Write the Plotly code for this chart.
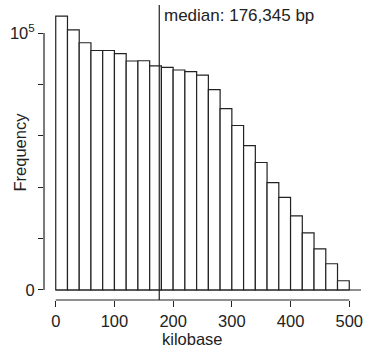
import plotly.graph_objects as go

# histogram bins (kilobase), left edges, width 20 kb
bin_left = [0, 20, 40, 60, 80, 100, 120, 140, 160, 180, 200, 220, 240,
            260, 280, 300, 320, 340, 360, 380, 400, 420, 440, 460, 480]
bin_width = 20
# log10(frequency)
log_freq = [5.33, 5.06, 4.81, 4.66, 4.66, 4.60, 4.455, 4.46, 4.36, 4.33,
            4.28, 4.25, 4.18, 3.90, 3.53, 3.20, 2.81, 2.48, 2.09, 1.80,
            1.44, 1.11, 0.80, 0.51, 0.18]
median_kb = 176.345
median_label = "median: 176,345 bp"
x_ticks = [0, 100, 200, 300, 400, 500]
y_major = [0, 5]
y_major_text = ["0", "10<sup>5</sup>"]
y_minor = [1, 2, 3, 4]

FONT = "Liberation Sans, Arial, sans-serif"
INK = "#222222"
FS = 16.5
W, H = 372, 356
ML, MR, MT, MB = 44, 11, 5, 56
PW, PH = W - ML - MR, H - MT - MB

centers = [b + bin_width / 2 for b in bin_left]

fig = go.Figure()
fig.add_trace(go.Bar(
    x=centers, y=log_freq, width=bin_width, base=0,
    marker=dict(color="white", line=dict(color=INK, width=1.2)),
    hoverinfo="skip",
))

# baseline
fig.add_shape(type="line", x0=0, x1=520, y0=0, y1=0, xref="x", yref="y",
              line=dict(color=INK, width=1.2))
# x axis line (0..500) at plot bottom
fig.add_shape(type="line", x0=0, x1=500, y0=0, y1=0, xref="x", yref="paper",
              line=dict(color=INK, width=1.2))
# y axis line (0..5) at plot left
fig.add_shape(type="line", x0=0, x1=0, y0=0, y1=5, xref="paper", yref="y",
              line=dict(color=INK, width=1.2))
# median line
fig.add_shape(type="line", x0=median_kb, x1=median_kb, y0=0, y1=1,
              xref="x", yref="paper", line=dict(color=INK, width=1.2))
fig.add_annotation(x=median_kb, y=(PH - (15 - MT)) / PH, xref="x", yref="paper",
                   text=median_label, showarrow=False, xanchor="left",
                   yanchor="middle", xshift=3,
                   font=dict(family=FONT, size=17, color=INK))

fig.add_annotation(x=(19 - ML) / PW, y=0.5, xref="paper", yref="paper",
                   text="Frequency", showarrow=False, textangle=-90,
                   xanchor="center", yanchor="middle",
                   font=dict(family=FONT, size=FS, color=INK))
fig.add_annotation(x=(192 - ML) / PW, y=-(339 - (MT + PH)) / PH,
                   xref="paper", yref="paper",
                   text="kilobase", showarrow=False,
                   xanchor="center", yanchor="middle",
                   font=dict(family=FONT, size=FS, color=INK))

fig.update_layout(
    width=W, height=H,
    margin=dict(l=ML, r=MR, t=MT, b=MB),
    paper_bgcolor="white", plot_bgcolor="white",
    showlegend=False,
    font=dict(family=FONT, size=FS, color=INK),
    xaxis=dict(range=[-20, 520], tickvals=x_ticks, ticks="outside",
               ticklen=6, tickwidth=1.2, tickcolor=INK,
               showgrid=False, zeroline=False, showline=False,
               tickfont=dict(family=FONT, size=FS, color=INK)),
    yaxis=dict(range=[-0.195, 5.545], tickvals=y_major, ticktext=y_major_text,
               ticks="outside", ticklen=5, tickwidth=1.2, tickcolor=INK,
               showgrid=False, zeroline=False, showline=False,
               tickfont=dict(family=FONT, size=FS, color=INK),
               minor=dict(tickvals=y_minor, ticks="outside", ticklen=5,
                          tickwidth=1.2, tickcolor=INK, showgrid=False)),
)

fig.write_html("out.html")
